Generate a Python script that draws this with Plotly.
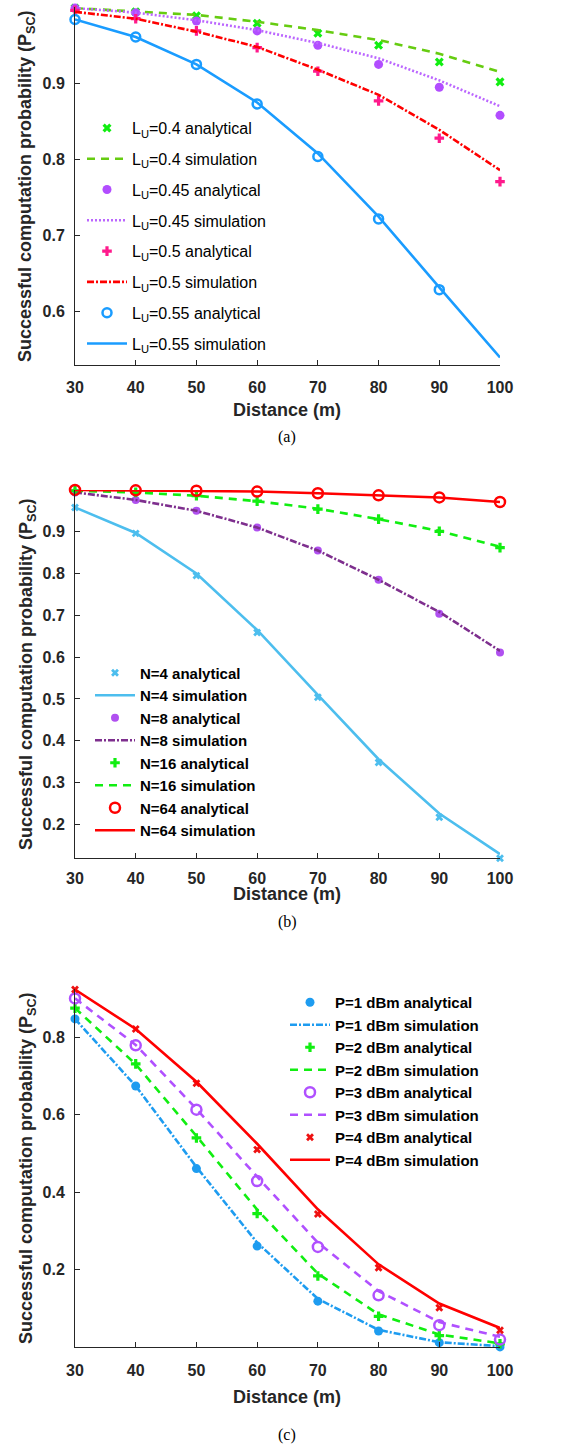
import plotly.graph_objects as go

# ---------------- data ----------------
distance = [30, 40, 50, 60, 70, 80, 90, 100]
x_ticks = [30, 40, 50, 60, 70, 80, 90, 100]

# panel (a)
a_L04_ana = [0.999, 0.994, 0.989, 0.979, 0.966, 0.950, 0.928, 0.902]
a_L04_sim = [0.999, 0.995, 0.990, 0.981, 0.970, 0.957, 0.939, 0.915]
a_L045_ana = [0.999, 0.993, 0.982, 0.969, 0.950, 0.925, 0.895, 0.858]
a_L045_sim = [0.999, 0.993, 0.983, 0.970, 0.953, 0.933, 0.904, 0.870]
a_L05_ana = [0.996, 0.985, 0.969, 0.947, 0.916, 0.877, 0.828, 0.771]
a_L05_sim = [0.994, 0.985, 0.968, 0.948, 0.918, 0.885, 0.839, 0.786]
a_L055_ana = [0.984, 0.961, 0.925, 0.873, 0.804, 0.722, 0.629, 0.528]
a_L055_sim = [0.984, 0.961, 0.925, 0.875, 0.808, 0.725, 0.632, 0.540]
a_yticks = [0.6, 0.7, 0.8, 0.9]

# panel (b)
b_N4_ana = [0.958, 0.896, 0.795, 0.659, 0.504, 0.348, 0.217, 0.119]
b_N4_sim = [0.958, 0.897, 0.800, 0.665, 0.510, 0.356, 0.226, 0.129]
b_N8_ana = [0.994, 0.976, 0.950, 0.910, 0.855, 0.785, 0.704, 0.611]
b_N8_sim = [0.994, 0.976, 0.950, 0.910, 0.855, 0.785, 0.708, 0.615]
b_N16_ana = [0.998, 0.994, 0.986, 0.973, 0.954, 0.930, 0.901, 0.862]
b_N16_sim = [0.998, 0.994, 0.986, 0.973, 0.955, 0.930, 0.902, 0.864]
b_N64_ana = [1.000, 0.999, 0.998, 0.996, 0.992, 0.987, 0.982, 0.971]
b_N64_sim = [1.000, 0.999, 0.998, 0.996, 0.992, 0.987, 0.982, 0.971]
b_yticks = [0.2, 0.3, 0.4, 0.5, 0.6, 0.7, 0.8, 0.9]

# panel (c)
c_P1_ana = [0.847, 0.674, 0.461, 0.261, 0.119, 0.042, 0.012, 0.001]
c_P1_sim = [0.847, 0.674, 0.465, 0.270, 0.125, 0.045, 0.013, 0.003]
c_P2_ana = [0.875, 0.731, 0.540, 0.345, 0.184, 0.080, 0.030, 0.009]
c_P2_sim = [0.875, 0.730, 0.545, 0.355, 0.190, 0.085, 0.033, 0.010]
c_P3_ana = [0.900, 0.779, 0.613, 0.429, 0.259, 0.134, 0.057, 0.020]
c_P3_sim = [0.900, 0.780, 0.615, 0.440, 0.270, 0.145, 0.065, 0.027]
c_P4_ana = [0.923, 0.821, 0.681, 0.510, 0.344, 0.205, 0.102, 0.044]
c_P4_sim = [0.923, 0.821, 0.685, 0.525, 0.356, 0.214, 0.113, 0.050]
c_yticks = [0.2, 0.4, 0.6, 0.8]

x_title = "Distance (m)"
y_title = "Successful computation probability (P<sub>SC</sub>)"
captions = ["(a)", "(b)", "(c)"]

# ---------------- figure ----------------
W, H = 575, 1446
FONT = "Liberation Sans, Arial, sans-serif"
AX = "#262626"

fig = go.Figure()


def px_y(p):
    return 1 - p / H


def px_x(p):
    return p / W


def marker_trace(y, name, symbol, color, size, xa, ya, legend, open_=False, lw=2.0, group=None):
    m = dict(symbol=symbol, color=color, size=size)
    m["line"] = dict(color=color, width=lw if open_ else 0)
    fig.add_trace(go.Scatter(x=distance, y=y, name=name, mode="markers", marker=m,
                             xaxis=xa, yaxis=ya, legend=legend, cliponaxis=False,
                             legendgroup=group))


def line_trace(y, name, color, dash, xa, ya, legend, width=2.6, group=None):
    fig.add_trace(go.Scatter(x=distance, y=y, name=name, mode="lines",
                             line=dict(color=color, dash=dash, width=width),
                             xaxis=xa, yaxis=ya, legend=legend, cliponaxis=False,
                             legendgroup=group))


# panel (a)
marker_trace(a_L04_ana, "L<sub>U</sub>=0.4 analytical", "x", "#11ee11", 8, "x", "y", "legend", group="a1")
line_trace(a_L04_sim, "L<sub>U</sub>=0.4 simulation", "#66cc11", "8px,6px", "x", "y", "legend", group="a2")
marker_trace(a_L045_ana, "L<sub>U</sub>=0.45 analytical", "circle", "#b24dff", 9, "x", "y", "legend", group="a3")
line_trace(a_L045_sim, "L<sub>U</sub>=0.45 simulation", "#bb66ff", "2px,2px", "x", "y", "legend", group="a4")
marker_trace(a_L05_ana, "L<sub>U</sub>=0.5 analytical", "cross", "#ff1a8c", 8, "x", "y", "legend", group="a5")
line_trace(a_L05_sim, "L<sub>U</sub>=0.5 simulation", "#ff0000", "7px,2px,2px,2px", "x", "y", "legend", group="a6")
marker_trace(a_L055_ana, "L<sub>U</sub>=0.55 analytical", "circle-open", "#1a9cff", 9, "x", "y", "legend", open_=True, lw=2.5, group="a7")
line_trace(a_L055_sim, "L<sub>U</sub>=0.55 simulation", "#1a9cff", "solid", "x", "y", "legend", group="a8")

# panel (b)
marker_trace(b_N4_ana, "N=4 analytical", "x", "#4dbeee", 7, "x2", "y2", "legend2")
line_trace(b_N4_sim, "N=4 simulation", "#4dbeee", "solid", "x2", "y2", "legend2")
marker_trace(b_N8_ana, "N=8 analytical", "circle", "#b050f0", 8, "x2", "y2", "legend2")
line_trace(b_N8_sim, "N=8 simulation", "#7e2f8e", "7px,2px,2px,2px", "x2", "y2", "legend2")
marker_trace(b_N16_ana, "N=16 analytical", "cross", "#11ee11", 8, "x2", "y2", "legend2")
line_trace(b_N16_sim, "N=16 simulation", "#11ee11", "8px,6px", "x2", "y2", "legend2")
marker_trace(b_N64_ana, "N=64 analytical", "circle-open", "#ff0000", 10, "x2", "y2", "legend2", open_=True, lw=2.5)
line_trace(b_N64_sim, "N=64 simulation", "#ff0000", "solid", "x2", "y2", "legend2")

# panel (c)
marker_trace(c_P1_ana, "P=1 dBm analytical", "circle", "#1e9cf0", 9, "x3", "y3", "legend3")
line_trace(c_P1_sim, "P=1 dBm simulation", "#1e9cf0", "7px,2px,2px,2px", "x3", "y3", "legend3")
marker_trace(c_P2_ana, "P=2 dBm analytical", "cross", "#11ee11", 8, "x3", "y3", "legend3")
line_trace(c_P2_sim, "P=2 dBm simulation", "#11ee11", "8px,6px", "x3", "y3", "legend3")
marker_trace(c_P3_ana, "P=3 dBm analytical", "circle-open", "#b050ff", 10, "x3", "y3", "legend3", open_=True, lw=2.5)
line_trace(c_P3_sim, "P=3 dBm simulation", "#b050ff", "8px,6px", "x3", "y3", "legend3")
marker_trace(c_P4_ana, "P=4 dBm analytical", "x", "#ee1111", 7, "x3", "y3", "legend3")
line_trace(c_P4_sim, "P=4 dBm simulation", "#ff0000", "solid", "x3", "y3", "legend3")

tickfont = dict(family=FONT, size=16, color=AX, weight="bold")
titlefont = dict(family=FONT, size=18, color=AX, weight="bold")


def xaxis(anchor, lab_standoff=8):
    return dict(domain=[px_x(75), px_x(500)], anchor=anchor, range=[30, 100],
                tickvals=x_ticks, ticks="inside", ticklen=5, tickcolor=AX,
                showline=True, linecolor=AX, linewidth=1, showgrid=False, zeroline=False,
                tickfont=tickfont, ticklabelstandoff=lab_standoff, automargin=False)


def yaxis(anchor, dom, rng, tv):
    return dict(domain=dom, anchor=anchor, range=rng, tickvals=tv,
                ticktext=[f"{v:g}" for v in tv],
                ticks="inside", ticklen=5, tickcolor=AX,
                showline=True, linecolor=AX, linewidth=1, showgrid=False, zeroline=False,
                tickfont=tickfont, ticklabelstandoff=6, automargin=False)


legend_common = dict(bgcolor="rgba(0,0,0,0)", borderwidth=0, itemwidth=40,
                     xanchor="left", yanchor="top", itemclick=False, itemdoubleclick=False)

fig.update_layout(
    width=W, height=H, autosize=False,
    margin=dict(l=0, r=0, t=0, b=0, autoexpand=False),
    paper_bgcolor="white", plot_bgcolor="white",
    font=dict(family=FONT, color=AX),
    xaxis=xaxis("y"),
    yaxis=yaxis("x", [px_y(365), px_y(7.3)], [0.53, 1.0], a_yticks),
    xaxis2=xaxis("y2", 5),
    yaxis2=yaxis("x2", [px_y(858.3), px_y(489.9)], [0.119, 1.0], b_yticks),
    xaxis3=xaxis("y3"),
    yaxis3=yaxis("x3", [px_y(1347.3), px_y(988.7)], [0.0, 0.925], c_yticks),
    legend=dict(**legend_common, x=px_x(82), y=px_y(111), tracegroupgap=7,
                font=dict(family=FONT, size=16, color="#000000")),
    legend2=dict(**legend_common, x=px_x(90), y=px_y(656.5),
                 font=dict(family=FONT, size=15, color="#000000", weight="bold")),
    legend3=dict(**legend_common, x=px_x(285), y=px_y(986),
                 font=dict(family=FONT, size=15, color="#000000", weight="bold")),
    showlegend=True,
)

# axis titles (placed precisely in pixel terms)
for ycen in [186, 674, 1168]:
    fig.add_annotation(text=y_title, x=px_x(27), y=px_y(ycen), xref="paper", yref="paper",
                       showarrow=False, textangle=-90, xanchor="center", yanchor="middle",
                       font=titlefont)
for ycen in [410, 894, 1397]:
    fig.add_annotation(text=x_title, x=px_x(287), y=px_y(ycen), xref="paper", yref="paper",
                       showarrow=False, xanchor="center", yanchor="middle", font=titlefont)

for label, ypx in zip(captions, [437, 922, 1435]):
    fig.add_annotation(text=label, x=px_x(287), y=px_y(ypx), xref="paper", yref="paper",
                       showarrow=False, xanchor="center", yanchor="middle",
                       font=dict(family="Liberation Serif, Times New Roman, serif", size=16, color="#000000"))

fig.write_html("out.html")
